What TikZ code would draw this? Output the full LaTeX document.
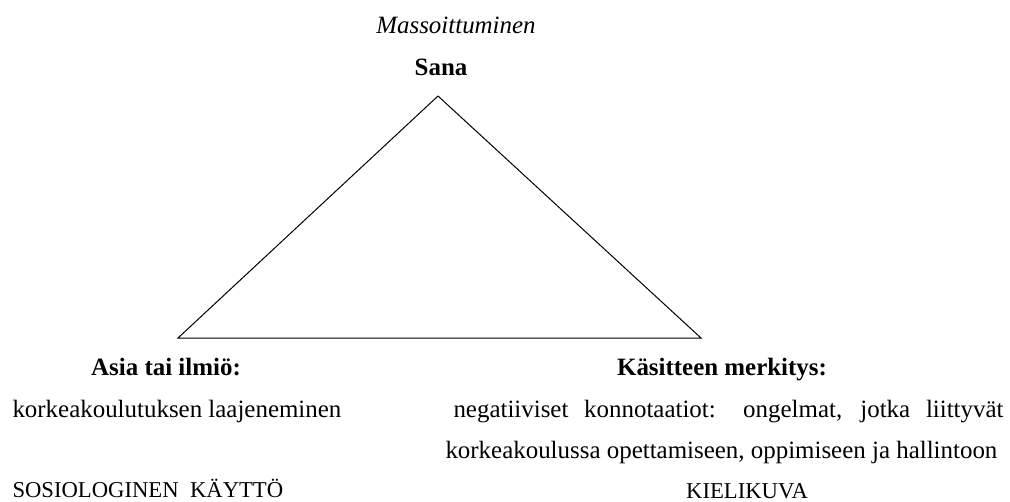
\documentclass[tikz,border=0pt]{standalone}
\usepackage{fontspec}
\setmainfont{Liberation Serif}

\tikzset{every picture/.style={line width=0.75pt}}
\tikzset{lbl/.style={inner sep=0pt,font=\fontsize{18.7}{22}\selectfont}}
\tikzset{caps/.style={inner sep=0pt,font=\fontsize{17}{20}\selectfont}}

\begin{document}
\begin{tikzpicture}[x=0.75pt,y=0.75pt,yscale=-1,xscale=1]
\useasboundingbox (0,0) rectangle (1010,501);

%Shape: Triangle
\coordinate (apex) at (438,96);
\coordinate (lft) at (178,338);
\coordinate (rgt) at (701,338);
\draw (apex) -- (lft) -- (rgt) -- cycle ;

% Text Node
\node (mass) [lbl,anchor=base] at (456,33) {\textit{Massoittuminen}};
% Text Node
\node (sana) [lbl,anchor=base] at (441,75) {\textbf{Sana}};
% Text Node
\node (asia) [lbl,anchor=base] at (166,375) {\textbf{Asia tai ilmiö:}};
% Text Node
\node (asiatxt) [lbl,anchor=base west] at (12,417) {korkeakoulutuksen laajeneminen};
% Text Node
\node (sosio) [caps,anchor=base west] at (12,497) {SOSIOLOGINEN\ \ KÄYTTÖ};
% Text Node
\node (kasite) [lbl,anchor=base] at (722,375) {\textbf{Käsitteen merkitys:}};
% Text Node
\node (kasitetxt) [lbl,anchor=base west,align=left,
  font=\fontsize{18.7}{30.75}\selectfont] at (445,458)
  {\hspace*{6pt}\makebox[412.5pt][s]{negatiiviset konnotaatiot: ongelmat, jotka liittyvät}\\
   korkeakoulussa opettamiseen, oppimiseen ja hallintoon};
% Text Node
\node (kieli) [caps,anchor=base] at (747,498) {KIELIKUVA};

\end{tikzpicture}
\end{document}
